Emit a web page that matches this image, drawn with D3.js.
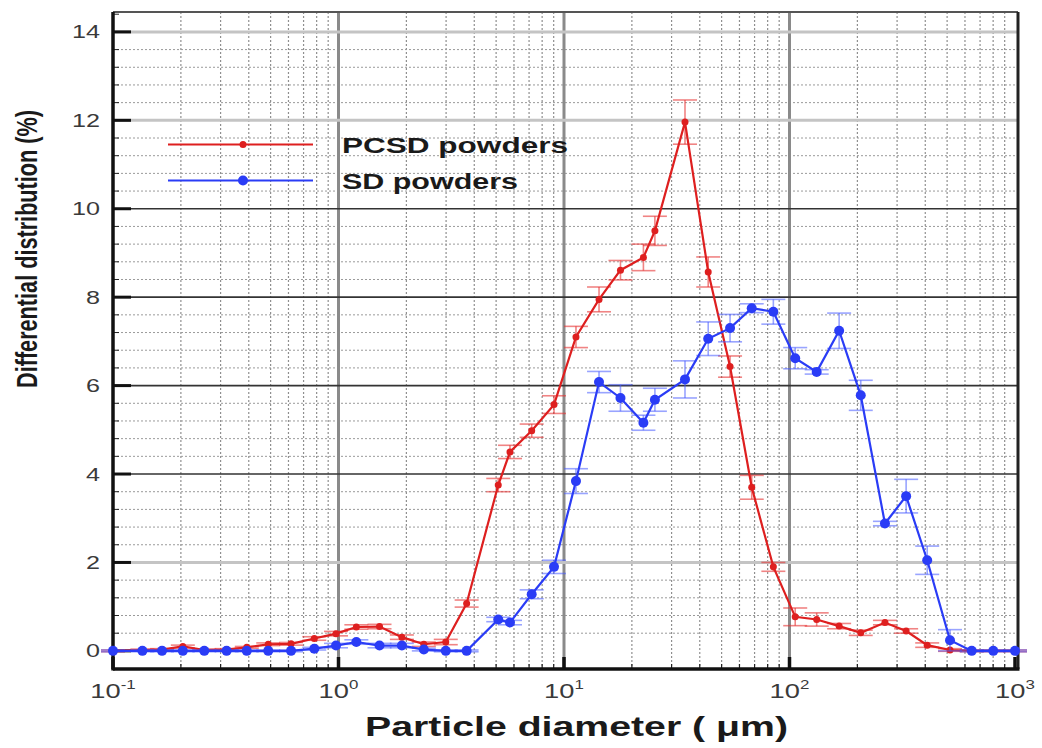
<!DOCTYPE html>
<html>
<head>
<meta charset="utf-8">
<script src="https://cdn.jsdelivr.net/npm/d3@7"></script>
<style>
  html, body { margin: 0; padding: 0; background: #fff; }
  svg { display: block; }
</style>
</head>
<body>
<svg id="chart" width="1042" height="748"></svg>
<script>
// --- data ---
const diameters = [0.1, 0.135, 0.165, 0.204, 0.254, 0.319, 0.392, 0.488, 0.616, 0.781,
  0.975, 1.20, 1.52, 1.91, 2.39, 2.99, 3.70, 5.11, 5.76, 7.19,
  9.03, 11.3, 14.3, 17.8, 22.5, 25.3, 34.4, 43.6, 54.5, 68.0,
  84.8, 106, 132, 166, 207, 265, 329, 408, 515, 643,
  801, 1000];

const pcsdValues = [0, 0.02, 0.03, 0.10, 0.02, 0.03, 0.08, 0.15, 0.16, 0.28,
  0.39, 0.54, 0.55, 0.31, 0.15, 0.20, 1.07, 3.75, 4.50, 4.98,
  5.57, 7.10, 7.95, 8.61, 8.90, 9.50, 11.96, 8.57, 6.43, 3.70,
  1.90, 0.77, 0.71, 0.56, 0.41, 0.64, 0.45, 0.13, 0.02, 0,
  0, 0];
const pcsdErrors = [0.02, 0.02, 0.02, 0.03, 0.02, 0.02, 0.02, 0.03, 0.03, 0.04,
  0.05, 0.05, 0.05, 0.05, 0.05, 0.06, 0.08, 0.15, 0.15, 0.15,
  0.2, 0.24, 0.28, 0.22, 0.3, 0.33, 0.5, 0.34, 0.24, 0.27,
  0.1, 0.2, 0.15, 0.06, 0.06, 0.05, 0.05, 0.05, 0.03, 0.02,
  0.02, 0.02];

const sdValues = [0, 0, 0, 0, 0, 0, 0, 0, 0, 0.05,
  0.12, 0.2, 0.12, 0.12, 0.03, 0, 0, 0.71, 0.64, 1.28,
  1.9, 3.84, 6.08, 5.72, 5.16, 5.68, 6.14, 7.06, 7.30, 7.75,
  7.67, 6.62, 6.31, 7.24, 5.78, 2.88, 3.50, 2.05, 0.24, 0,
  0, 0];
const sdErrors = [0.02, 0.02, 0.02, 0.02, 0.02, 0.02, 0.02, 0.02, 0.02, 0.03,
  0.05, 0.05, 0.05, 0.05, 0.03, 0.02, 0.02, 0.05, 0.05, 0.1,
  0.15, 0.28, 0.24, 0.3, 0.17, 0.26, 0.42, 0.38, 0.31, 0.1,
  0.28, 0.24, 0.05, 0.4, 0.34, 0.05, 0.38, 0.32, 0.24, 0.02,
  0.02, 0.02];

const yTicks = [0, 2, 4, 6, 8, 10, 12, 14];
const xDecades = [0.1, 1, 10, 100, 1000];
const xExponents = ["-1", "0", "1", "2", "3"];

const seriesNames = ["PCSD powders", "SD powders"];

// --- layout ---
const svg = d3.select("#chart");
const plotLeft = 113, plotRight = 1018, plotTop = 12, plotBottom = 669;

const x = d3.scaleLog().domain([0.1, 1000]).range([113, 1015]);
const y = d3.scaleLinear().domain([-0.41, 14.45]).range([plotBottom, plotTop]);

const grid = svg.append("g");

// minor vertical lines (2..9 in each decade)
const minorX = [];
[0.1, 1, 10, 100].forEach(d => { for (let k = 2; k <= 9; k++) minorX.push(d * k); });
grid.selectAll(".vminor").data(minorX).enter().append("line")
  .attr("x1", d => x(d)).attr("x2", d => x(d))
  .attr("y1", plotTop).attr("y2", plotBottom)
  .attr("stroke", "#8f8f8f").attr("stroke-width", 1.2).attr("stroke-dasharray", "2,2");

// minor horizontal lines every 0.4
const minorY = d3.range(0.4, 14.4, 0.4).filter(v => Math.abs(v / 2 - Math.round(v / 2)) > 0.01);
grid.selectAll(".hminor").data(minorY).enter().append("line")
  .attr("x1", plotLeft).attr("x2", plotRight)
  .attr("y1", d => y(d)).attr("y2", d => y(d))
  .attr("stroke", "#9a9a9a").attr("stroke-width", 1).attr("stroke-dasharray", "2,2");

// major vertical lines at 1, 10, 100
grid.selectAll(".vmajor").data([1, 10, 100]).enter().append("line")
  .attr("x1", d => x(d)).attr("x2", d => x(d))
  .attr("y1", plotTop).attr("y2", plotBottom)
  .attr("stroke", "#8a8a8a").attr("stroke-width", 3);

// major horizontal lines
grid.selectAll(".hmajor").data(yTicks.filter(d => d > 0)).enter().append("line")
  .attr("x1", plotLeft).attr("x2", plotRight)
  .attr("y1", d => y(d)).attr("y2", d => y(d))
  .attr("stroke", d => (d >= 4 && d <= 10) ? "#333" : "#c4c4c4")
  .attr("stroke-width", d => (d >= 4 && d <= 10) ? 1.6 : 3);

// --- axes ticks ---
const axes = svg.append("g");
const minorYTicks = d3.range(0, 14.45, 0.4);
axes.selectAll(".ytm").data(minorYTicks).enter().append("line")
  .attr("x1", plotLeft).attr("x2", plotLeft + 6)
  .attr("y1", d => y(d)).attr("y2", d => y(d))
  .attr("stroke", "#222").attr("stroke-width", 1);
axes.selectAll(".ytM").data(yTicks).enter().append("line")
  .attr("x1", plotLeft).attr("x2", plotLeft + 18)
  .attr("y1", d => y(d)).attr("y2", d => y(d))
  .attr("stroke", "#111").attr("stroke-width", 3);

axes.selectAll(".xtm").data(minorX).enter().append("line")
  .attr("x1", d => x(d)).attr("x2", d => x(d))
  .attr("y1", plotBottom).attr("y2", plotBottom - 5)
  .attr("stroke", "#222").attr("stroke-width", 1.2);
axes.selectAll(".xtM").data(xDecades).enter().append("line")
  .attr("x1", d => x(d)).attr("x2", d => x(d))
  .attr("y1", plotBottom).attr("y2", plotBottom - 12)
  .attr("stroke", "#111").attr("stroke-width", 3.5);

// frame
svg.append("line").attr("x1", plotLeft).attr("x2", plotRight).attr("y1", plotTop).attr("y2", plotTop)
  .attr("stroke", "#555").attr("stroke-width", 2);
svg.append("line").attr("x1", plotRight).attr("x2", plotRight).attr("y1", plotTop).attr("y2", plotBottom)
  .attr("stroke", "#222").attr("stroke-width", 3);
svg.append("line").attr("x1", plotLeft).attr("x2", plotRight + 1.5).attr("y1", plotBottom).attr("y2", plotBottom)
  .attr("stroke", "#111").attr("stroke-width", 3.5);
svg.append("line").attr("x1", plotLeft).attr("x2", plotLeft).attr("y1", plotTop).attr("y2", plotBottom + 1.5)
  .attr("stroke", "#111").attr("stroke-width", 3.5);

// tick labels (the picture is stretched sideways, so the text is too)
const labelFont = "Liberation Sans, Arial, sans-serif";
axes.selectAll(".ylab").data(yTicks).enter().append("text")
  .attr("transform", d => `translate(100, ${y(d) + 6.5}) scale(1.4, 1)`)
  .attr("text-anchor", "end")
  .style("font-family", labelFont).style("font-size", "18px").style("fill", "#3a3a3a")
  .text(d => d);

xDecades.forEach((d, i) => {
  const t = axes.append("text")
    .attr("transform", `translate(${x(d)}, 698) scale(1.3, 1)`)
    .attr("text-anchor", "middle")
    .style("font-family", labelFont).style("font-size", "21px").style("fill", "#3a3a3a");
  t.append("tspan").text("10");
  t.append("tspan").attr("dy", -9).style("font-size", "13px").text(xExponents[i]);
});

// axis titles
svg.append("text")
  .attr("x", 365).attr("y", 736)
  .attr("textLength", 423).attr("lengthAdjust", "spacingAndGlyphs")
  .style("font-family", labelFont).style("font-size", "27px").style("font-weight", "bold")
  .style("fill", "#1a1a1a")
  .text("Particle diameter ( μm)");

svg.append("text")
  .attr("transform", "translate(37, 388) rotate(-90) scale(1, 1.15)")
  .attr("textLength", 278).attr("lengthAdjust", "spacingAndGlyphs")
  .style("font-family", "Liberation Sans Narrow, Arial Narrow, sans-serif")
  .style("font-size", "26px").style("font-weight", "bold").style("fill", "#1a1a1a")
  .text("Differential distribution (%)");

// --- series ---
const series = [
  { name: seriesNames[0], values: pcsdValues, errors: pcsdErrors, color: "#de1f1f", bar: "rgba(230,50,50,0.6)", r: 3.5 },
  { name: seriesNames[1], values: sdValues, errors: sdErrors, color: "#2a3cf6", bar: "rgba(70,90,255,0.55)", r: 5 }
];

const line = d3.line().x(d => x(d.x)).y(d => y(d.y));
const capHalf = 12;

series.forEach(s => {
  const pts = diameters.map((d, i) => ({ x: d, y: s.values[i], e: s.errors[i] }));
  const g = svg.append("g");

  // error bars
  const eb = g.selectAll(".eb").data(pts).enter().append("g")
    .attr("stroke", s.bar).attr("stroke-width", 1.6);
  eb.append("line")
    .attr("x1", d => x(d.x)).attr("x2", d => x(d.x))
    .attr("y1", d => y(d.y + d.e)).attr("y2", d => y(d.y - d.e));
  eb.append("line")
    .attr("x1", d => x(d.x) - capHalf).attr("x2", d => x(d.x) + capHalf)
    .attr("y1", d => y(d.y + d.e)).attr("y2", d => y(d.y + d.e));
  eb.append("line")
    .attr("x1", d => x(d.x) - capHalf).attr("x2", d => x(d.x) + capHalf)
    .attr("y1", d => y(d.y - d.e)).attr("y2", d => y(d.y - d.e));

  g.append("path").datum(pts)
    .attr("d", line).attr("fill", "none")
    .attr("stroke", s.color).attr("stroke-width", 2.2);

  g.selectAll(".pt").data(pts).enter().append("circle")
    .attr("cx", d => x(d.x)).attr("cy", d => y(d.y)).attr("r", s.r)
    .attr("fill", s.color);
});

// --- legend ---
const legend = svg.append("g");
const legendY = [144.5, 180.5];
const legendWidths = [226, 176];
series.forEach((s, i) => {
  legend.append("line")
    .attr("x1", 168).attr("x2", 313).attr("y1", legendY[i]).attr("y2", legendY[i])
    .attr("stroke", s.color).attr("stroke-width", 2);
  legend.append("circle")
    .attr("cx", 243).attr("cy", legendY[i]).attr("r", s.r).attr("fill", s.color);
  legend.append("text")
    .attr("x", 342).attr("y", legendY[i] + 8)
    .attr("textLength", legendWidths[i]).attr("lengthAdjust", "spacingAndGlyphs")
    .style("font-family", labelFont).style("font-size", "22px").style("font-weight", "bold")
    .style("fill", "#1a1a1a")
    .text(s.name);
});
</script>
</body>
</html>
